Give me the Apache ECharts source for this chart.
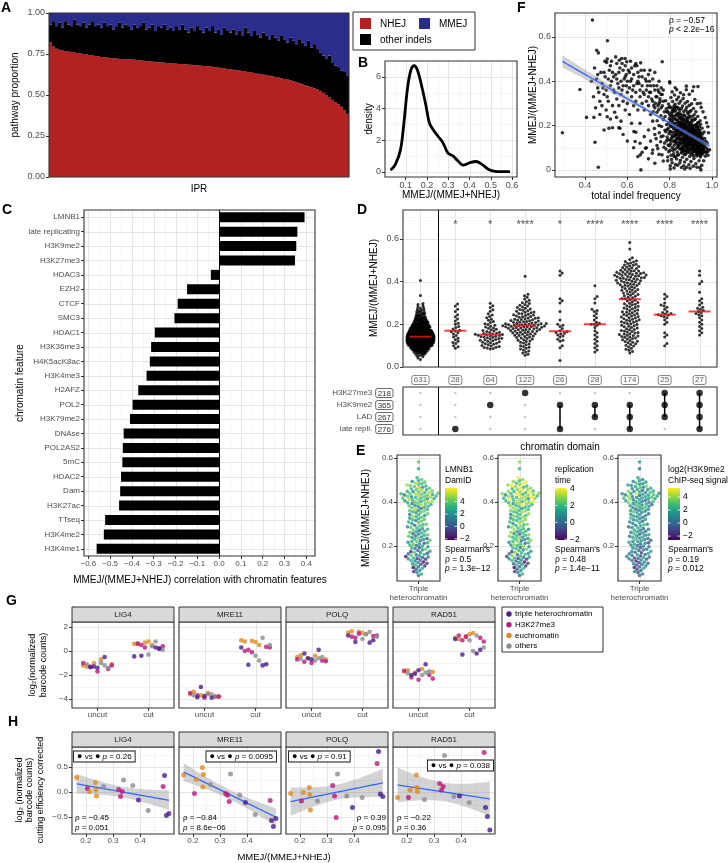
<!DOCTYPE html>
<html><head><meta charset="utf-8">
<script src="https://cdn.jsdelivr.net/npm/echarts@6/dist/echarts.min.js"></script>
<style>html,body{margin:0;padding:0;background:#fff}#c{width:728px;height:863px}</style>
</head><body><div id="c"></div>
<script>
// ================= DATA =================
// A: pathway proportions per IPR (sorted by NHEJ)
const nhejShare = [0.82,0.795,0.782,0.776,0.771,0.768,0.765,0.762,0.759,0.756,0.753,0.75,0.747,0.744,0.741,0.738,0.735,0.732,0.73,0.728,0.726,0.724,0.722,0.72,0.719,0.718,0.717,0.716,0.715,0.713,0.711,0.709,0.707,0.705,0.703,0.702,0.7,0.698,0.697,0.695,0.694,0.692,0.691,0.689,0.688,0.687,0.685,0.684,0.682,0.681,0.679,0.677,0.676,0.674,0.672,0.67,0.667,0.665,0.662,0.659,0.657,0.654,0.651,0.649,0.646,0.643,0.64,0.637,0.634,0.63,0.627,0.624,0.621,0.617,0.614,0.61,0.606,0.602,0.598,0.594,0.589,0.584,0.578,0.572,0.566,0.56,0.554,0.548,0.541,0.533,0.525,0.513,0.499,0.484,0.47,0.457,0.444,0.428,0.408,0.385];
const mmejShare = [.07,.05,.08,.06,.09,.05,.07,.08,.04,.07,.08,.06,.09,.07,.05,.08,.07,.09,.06,.08,.07,.10,.08,.06,.09,.07,.08,.10,.07,.09,.08,.06,.10,.09,.07,.11,.08,.09,.07,.10,.09,.11,.08,.10,.07,.10,.12,.09,.11,.08,.10,.12,.09,.11,.08,.12,.10,.13,.09,.11,.12,.10,.13,.11,.14,.09,.12,.14,.11,.13,.15,.12,.14,.16,.13,.15,.17,.14,.16,.18,.15,.17,.19,.16,.18,.20,.17,.21,.19,.22,.24,.26,.28,.26,.30,.32,.33,.35,.36,.38];
// B: density of MMEJ/(MMEJ+NHEJ)
const densityX = [0.029,0.052,0.076,0.092,0.108,0.124,0.14,0.156,0.179,0.195,0.211,0.227,0.251,0.275,0.298,0.322,0.346,0.37,0.40,0.43,0.46,0.49,0.52,0.55,0.59];
const densityY = [0.1,0.47,1.4,3.1,5.2,6.4,6.7,6.4,5.2,4.2,3.1,2.7,2.26,1.84,1.2,1.0,0.68,0.42,0.57,0.65,0.45,0.15,0.03,0.01,0.01];
// C: correlation with chromatin features
const chromFeatures = ['LMNB1','late replicating','H3K9me2','H3K27me3','HDAC3','EZH2','CTCF','SMC3','HDAC1','H3K36me3','H4K5acK8ac','H3K4me3','H2AFZ','POL2','H3K79me2','DNAse','POL2AS2','5mC','HDAC2','Dam','H3K27ac','TTseq','H3K4me2','H3K4me1'];
const chromCorr = [0.392,0.359,0.354,0.348,-0.038,-0.147,-0.19,-0.205,-0.295,-0.312,-0.318,-0.333,-0.371,-0.397,-0.409,-0.438,-0.442,-0.444,-0.45,-0.454,-0.459,-0.523,-0.529,-0.562];
// D: chromatin domain groups
const groupCounts = [631,28,64,122,26,28,174,25,27];
const groupStars = ['','*','*','****','*','****','****','****','****'];
const domainRows = ['H3K27me3','H3K9me2','LAD','late repli.'];
const domainRowCounts = [218,365,267,276];
const groupMembership = [[0,0,0,0],[0,0,0,1],[0,1,0,0],[1,0,0,0],[0,1,0,1],[0,1,1,0],[0,1,1,1],[1,1,1,0],[1,1,1,1]];
const g1BinStart = [.03,.04,.05,.06,.07,.08,.09,.10,.11,.12,.13,.14,.15,.16,.17,.18,.19,.20,.21,.22,.23,.24,.25,.26,.27,.28,.29,.33,.40];
const g1BinCount = [1,2,4,8,14,22,32,45,55,60,62,60,54,46,38,30,24,18,14,10,8,6,5,4,3,2,2,1,1];
const g2 = [.295,.285,.27,.26,.245,.235,.225,.215,.205,.2,.19,.185,.178,.172,.168,.165,.16,.155,.148,.14,.135,.128,.12,.115,.11,.1,.095,.088];
const g3 = [.298,.287,.279,.268,.261,.249,.244,.236,.231,.224,.219,.213,.208,.203,.199,.196,.191,.187,.183,.181,.177,.174,.171,.168,.166,.163,.161,.158,.157,.155,.153,.152,.151,.149,.147,.146,.144,.142,.141,.139,.137,.135,.133,.131,.129,.127,.125,.123,.121,.118,.116,.114,.111,.109,.106,.104,.101,.098,.096,.093,.091,.089,.087,.084];
const g4 = [.425,.34,.333,.326,.318,.312,.306,.301,.297,.293,.289,.285,.281,.278,.275,.272,.269,.266,.263,.261,.258,.256,.254,.251,.249,.247,.245,.243,.241,.239,.237,.235,.233,.231,.229,.228,.226,.224,.222,.221,.219,.218,.216,.215,.213,.212,.21,.209,.208,.206,.205,.204,.203,.202,.201,.2,.199,.198,.197,.196,.195,.194,.193,.192,.191,.19,.189,.188,.187,.186,.185,.184,.183,.181,.18,.179,.178,.176,.175,.174,.172,.171,.169,.168,.166,.165,.163,.162,.16,.158,.156,.155,.153,.151,.149,.147,.145,.143,.141,.138,.136,.133,.131,.128,.125,.122,.119,.116,.112,.108,.104,.1,.096,.092,.088,.084,.08,.075,.07,.065,.06,.055];
const g5 = [.45,.44,.43,.32,.31,.3,.26,.22,.2,.195,.19,.18,.17,.165,.162,.158,.155,.15,.145,.14,.13,.125,.12,.1,.09,.03];
const g6 = [.38,.33,.32,.3,.27,.265,.26,.25,.24,.23,.22,.21,.205,.2,.2,.195,.185,.17,.16,.15,.14,.13,.12,.11,.1,.09,.08,.07];
const g7 = [.065,.072,.079,.083,.088,.094,.098,.102,.105,.109,.113,.116,.119,.121,.124,.127,.131,.133,.136,.139,.141,.143,.145,.147,.149,.152,.154,.156,.159,.161,.164,.166,.169,.171,.174,.176,.179,.182,.185,.188,.191,.193,.196,.199,.202,.204,.207,.209,.212,.214,.217,.219,.221,.224,.226,.229,.231,.234,.236,.239,.241,.244,.246,.249,.251,.254,.256,.259,.262,.265,.267,.271,.273,.276,.279,.282,.284,.287,.291,.294,.296,.299,.302,.306,.309,.313,.316,.319,.321,.324,.327,.331,.333,.336,.339,.342,.344,.347,.351,.354,.356,.359,.361,.363,.366,.368,.371,.374,.376,.379,.381,.383,.385,.387,.389,.391,.393,.395,.397,.399,.401,.403,.404,.406,.408,.41,.411,.413,.415,.416,.418,.419,.421,.422,.424,.425,.427,.428,.43,.431,.433,.434,.436,.437,.438,.439,.441,.443,.444,.446,.448,.449,.451,.453,.456,.458,.461,.463,.466,.468,.471,.473,.476,.478,.481,.484,.487,.491,.494,.497,.503,.511,.552,.583];
const g8 = [.34,.33,.32,.3,.29,.285,.28,.27,.26,.255,.25,.248,.245,.243,.24,.235,.23,.22,.21,.2,.16,.15,.14,.11,.1];
const g9 = [.45,.43,.4,.39,.35,.32,.31,.3,.29,.28,.275,.27,.265,.26,.255,.25,.245,.24,.23,.22,.21,.2,.19,.18,.17,.16,.15];
// E: chromatin signals of triple-heterochromatin IPRs (same order as g7)
const lmnb1Signal = [1,3,2,-1,2,0,3,-2,1,-1,3,0,2,-1,2,-2,1,3,0,-1,2,-1,3,0,1,-2,2,4,1,3,1,0,2,4,-1,2,1,2,4,1,3,0,2,3,1,3,4,2,0,3,2,4,3,1,4,2,3,0,4,2,2,4,1,3,4,2,0,3,4,2,3,1,4,3,2,3,4,2,4,1,3,4,2,4,3,4,1,3,4,3,2,4,3,5,2,3,1,4,2,4,3,4,4,2,3,5,1,4,3,2,3,4,2,5,3,4,1,4,3,5,4,3,5,2,4,3,4,5,2,3,4,3,3,5,4,2,4,3,5,4,1,3,4,5,3,4,4,3,5,4,2,3,4,5,3,4,3,4,5,2,4,3,4,5,4,3,5,4,2,3,4,3,3,4];
const replicationTime = [0,2,1,-1,1,0,2,-2,0,-1,2,1,0,-1,1,-2,0,2,1,-1,1,-1,2,0,1,-1,2,3,0,2,0,1,2,3,-1,1,2,1,3,2,2,0,1,3,2,1,3,2,0,2,1,3,2,0,3,1,2,1,3,2,1,3,2,2,3,0,1,2,3,1,2,2,3,1,2,2,3,1,3,2,2,3,1,3,2,3,2,2,3,2,1,3,2,3,2,2,1,3,2,3,2,3,3,2,2,3,1,3,2,2,2,3,2,4,2,3,1,3,2,3,3,2,4,2,3,2,3,4,1,3,2,3,2,4,3,2,3,2,4,3,1,3,2,4,3,2,3,2,4,3,2,3,2,4,3,3,2,3,4,2,3,2,4,3,3,4,2,4,3,2,3,4,2,3];
const h3k9me2Signal = [0,1,-1,1,0,-1,2,-2,0,1,-1,0,1,0,-1,1,-2,0,1,0,1,0,-1,2,0,1,-1,0,2,0,1,2,-1,0,1,2,0,1,0,2,1,-1,0,1,0,1,2,0,1,-1,2,1,1,2,0,1,3,0,1,2,2,0,1,1,2,0,3,1,1,2,0,1,2,1,0,2,1,0,2,1,3,1,1,2,1,0,2,1,2,1,3,0,1,2,1,1,2,0,2,1,3,1,2,1,1,0,2,1,3,2,1,2,3,1,0,2,1,2,4,1,2,1,3,2,0,1,2,4,1,2,3,1,1,3,2,1,4,2,0,2,1,3,2,5,1,2,2,1,3,2,1,4,2,0,1,2,1,2,3,1,2,4,1,2,2,1,3,2,1,2,1,2,0,2];
// F: total indel frequency vs MMEJ ratio
const indelVsRatio = [
[.293,.168],[.435,.676],[.506,.583],[.376,.363],[.407,.237],[.442,.237],[.447,.125],[.463,.012],[.455,.540],[.463,.528],[.494,.490],[.502,.485],[.562,.495],[.573,.503],[.589,.503],[.597,.488],[.663,.483],[.765,.488],[.707,.450],[.800,.398],[.914,.375],[.879,.378],[.513,.188],[.565,.188],[.549,.237],[.505,.240],[.631,.173],[.662,.068],[.686,.098],[.664,.000],[.637,.128],[.981,.195],[.981,.083],[.948,.000],[.718,.075],
[.43,.40],[.44,.33],[.45,.28],[.46,.37],[.46,.43],[.47,.31],[.47,.25],[.48,.39],[.48,.29],[.49,.34],[.49,.44],[.50,.27],[.50,.36],[.51,.41],[.51,.31],[.52,.47],[.52,.23],[.52,.38],[.53,.29],[.53,.44],[.54,.35],[.54,.26],[.55,.41],[.55,.32],[.55,.48],[.56,.37],[.56,.29],[.56,.44],[.57,.40],[.57,.34],[.57,.22],[.58,.45],[.58,.31],[.58,.38],[.59,.42],[.59,.27],[.59,.47],[.60,.35],[.60,.40],[.60,.30],[.61,.44],[.61,.37],[.61,.25],[.62,.41],[.62,.33],[.62,.46],[.63,.38],[.63,.29],[.63,.43],[.64,.35],[.64,.48],[.64,.31],[.65,.40],[.65,.27],[.65,.44],[.66,.36],[.66,.33],[.66,.21],[.67,.42],[.67,.30],[.67,.38],[.68,.34],[.68,.45],[.68,.27],[.69,.40],[.69,.31],[.69,.36],[.70,.43],[.70,.29],[.70,.33],[.71,.38],[.71,.25],[.71,.35],[.72,.41],[.72,.31],[.72,.22],[.73,.36],[.73,.28],[.73,.44],[.74,.33],[.74,.38],[.74,.26],[.75,.30],[.75,.35],[.75,.40],[.76,.34],[.76,.28],[.76,.37],[.77,.31],[.77,.36],
[.445,.46],[.455,.41],[.465,.35],[.475,.44],[.485,.37],[.495,.42],[.505,.33],[.515,.45],[.525,.40],[.535,.36],[.545,.43],[.555,.39],[.565,.46],[.575,.36],[.585,.41],[.595,.38],[.605,.45],[.615,.40],[.625,.36],[.635,.47],[.645,.39],[.655,.42],[.665,.45],[.675,.35],[.685,.41],[.695,.38],[.705,.35],[.715,.32],[.725,.38],[.735,.33],[.745,.36],[.755,.31],[.765,.34],[.505,.50],[.525,.49],[.545,.51],[.575,.48],[.615,.49],[.645,.47],[.535,.42],[.595,.43],[.655,.39],[.705,.40],[.725,.29],[.745,.29],
[.49,.18],[.53,.19],[.56,.19],[.58,.16],[.60,.13],[.62,.21],[.63,.10],[.64,.17],[.65,.06],[.66,.12],[.67,.08],[.68,.15],[.69,.10],[.70,.18],[.70,.05],[.71,.13],[.72,.09],[.73,.16],[.73,.03],[.74,.11],[.75,.20],[.75,.07],[.76,.15],[.77,.23],[.77,.04],
[.781,.312],[.784,.276],[.779,.241],[.786,.205],[.782,.172],[.788,.148],[.776,.121],[.783,.094],[.791,.058],[.795,.297],[.792,.262],[.798,.231],[.794,.188],[.797,.163],[.793,.137],[.799,.109],[.796,.082],[.791,.041],[.803,.018],[.806,.327],[.802,.285],[.809,.254],[.804,.226],[.807,.197],[.801,.173],[.808,.142],[.805,.118],[.802,.089],[.809,.047],[.814,.309],[.817,.271],[.812,.238],[.815,.214],[.818,.186],[.811,.157],[.816,.129],[.813,.101],[.819,.073],[.812,.032],[.823,.338],[.826,.296],[.821,.263],[.828,.244],[.824,.209],[.827,.178],[.822,.151],[.829,.126],[.825,.093],[.821,.061],[.828,.024],[.834,.317],[.831,.283],[.837,.255],[.833,.226],[.838,.194],[.835,.166],[.832,.139],[.839,.112],[.836,.081],[.833,.049],[.842,.329],[.845,.301],[.848,.268],[.843,.241],[.846,.213],[.841,.182],[.849,.158],[.844,.127],[.847,.096],[.842,.068],[.848,.031],[.853,.311],[.856,.277],[.851,.252],[.858,.222],[.854,.191],[.857,.169],[.852,.137],[.859,.109],[.855,.077],[.851,.043],[.864,.322],[.861,.288],[.867,.263],[.863,.232],[.868,.203],[.862,.176],[.866,.147],[.869,.119],[.864,.088],[.861,.057],[.867,.019],[.873,.301],[.876,.271],[.871,.244],[.878,.214],[.874,.186],[.877,.158],[.872,.128],[.879,.101],[.875,.069],[.871,.036],[.884,.309],[.881,.283],[.887,.253],[.883,.227],[.888,.196],[.882,.167],[.886,.139],[.889,.112],[.884,.079],[.881,.048],[.893,.291],[.896,.262],[.891,.236],[.898,.205],[.894,.177],[.897,.152],[.892,.121],[.899,.093],[.895,.061],[.891,.023],[.904,.298],[.901,.268],[.907,.241],[.903,.214],[.908,.186],[.902,.158],[.906,.131],[.909,.104],[.904,.071],[.901,.038],[.913,.277],[.916,.249],[.911,.223],[.918,.193],[.914,.166],[.917,.138],[.912,.111],[.919,.083],[.915,.052],[.924,.262],[.921,.231],[.927,.204],[.923,.177],[.928,.148],[.922,.122],[.926,.094],[.929,.063],[.924,.028],[.933,.241],[.936,.213],[.931,.186],[.938,.157],[.934,.131],[.937,.103],[.932,.076],[.939,.041],[.944,.222],[.941,.196],[.947,.168],[.943,.142],[.948,.114],[.942,.087],[.946,.058],[.953,.188],[.956,.162],[.951,.134],[.958,.106],[.954,.078],[.963,.171],[.966,.142],[.961,.112],[.968,.081],[.972,.128],[.977,.094],
[.787,.262],[.803,.244],[.811,.196],[.818,.227],[.826,.187],[.829,.158],[.834,.212],[.836,.101],[.841,.148],[.843,.276],[.849,.201],[.851,.119],[.854,.236],[.857,.092],[.859,.182],[.862,.214],[.865,.131],[.868,.247],[.869,.071],[.872,.198],[.874,.109],[.876,.229],[.879,.151],[.881,.186],[.883,.094],[.885,.261],[.887,.121],[.889,.213],[.891,.172],[.893,.078],[.895,.243],[.897,.136],[.899,.188],[.901,.112],[.903,.226],[.905,.163],[.907,.087],[.909,.201],[.911,.142],[.913,.064],[.915,.183],[.917,.117],[.919,.228],[.921,.156],[.923,.091],[.925,.197],[.927,.133],[.929,.172],[.931,.108],[.933,.213],[.935,.147],[.937,.068],[.939,.181],[.941,.126],[.943,.163],[.945,.097],[.947,.139],[.949,.071],[.952,.148],[.955,.121],[.957,.093],[.812,.264],[.816,.088],[.822,.112],[.824,.278],[.827,.059],[.831,.169],[.838,.067],[.846,.169],[.847,.234],[.852,.157],[.856,.203],[.861,.101],[.863,.164],[.866,.187],[.871,.143],[.873,.088],[.877,.121],[.882,.139],[.884,.236],[.888,.158],[.892,.101],[.894,.211],[.898,.171],[.902,.128],[.906,.196],[.908,.149],[.912,.172],[.914,.093],[.918,.153],[.922,.204],[.926,.119],[.928,.082],[.932,.193],[.936,.127],[.938,.097],[.942,.176],[.944,.118],[.946,.206],[.803,.132],[.807,.066],[.797,.212],[.793,.112],[.789,.182],[.785,.131],
[.722,.262],[.728,.187],[.733,.301],[.736,.141],[.741,.222],[.744,.096],[.748,.271],[.751,.168],[.754,.321],[.757,.127],[.759,.244],[.762,.196],[.764,.068],[.766,.289],[.769,.153],[.771,.226],[.773,.102],[.775,.262],[.778,.179],[.989,.091],[.984,.168],[.975,.213],[.968,.236],[.958,.262],[.949,.282],[.961,.041],[.952,.021],[.943,.011],[.929,.012],[.912,.017],[.897,.007],[.881,.012],[.871,.004],[.856,.011],[.838,.021],[.821,.009],[.803,.004],
[.812,.352],[.826,.371],[.834,.362],[.851,.348],[.866,.339],[.879,.362],[.893,.341],[.908,.356],[.919,.318],[.931,.299],[.945,.301],[.934,.376],[.801,.392],
[.796,.281],[.799,.252],[.802,.203],[.806,.172],[.808,.221],[.811,.279],[.813,.148],[.815,.244],[.817,.169],[.819,.203],[.821,.288],[.823,.131],[.825,.232],[.826,.158],[.828,.268],[.829,.197],[.831,.121],[.832,.249],[.834,.177],[.835,.139],[.837,.223],[.838,.283],[.839,.158],[.841,.203],[.842,.108],[.843,.187],[.844,.254],[.846,.141],[.847,.216],[.848,.118],[.849,.176],[.851,.232],[.852,.096],[.853,.162],[.854,.208],[.855,.129],[.856,.247],[.857,.183],[.858,.143],[.859,.081],[.861,.193],[.862,.124],[.863,.226],[.864,.157],[.865,.098],[.866,.171],[.867,.207],[.868,.137],[.869,.186],[.871,.112],[.872,.161],[.873,.221],[.874,.132],[.875,.196],[.876,.083],[.877,.174],[.878,.141],[.879,.206],[.881,.117],[.882,.153],[.883,.188],[.884,.104],[.885,.167],[.886,.218],[.887,.131],[.888,.086],[.889,.177],[.891,.142],[.892,.198],[.893,.113],[.894,.158],[.895,.127],[.896,.184],[.897,.091],[.898,.148],[.899,.203],[.901,.121],[.902,.172],[.903,.098],[.904,.146],[.905,.186],[.906,.112],[.907,.163],[.908,.076],[.909,.132],[.911,.181],[.912,.101],[.913,.148],[.914,.121],[.915,.166],[.916,.083],[.917,.139],[.918,.109],[.919,.171],[.921,.128],[.922,.092],[.923,.151],[.924,.112],[.925,.178],[.926,.071],[.927,.141],[.928,.101],[.929,.158],[.931,.126],[.932,.088],[.933,.164],[.934,.107],[.935,.132],[.936,.078],[.937,.153],[.938,.118],[.939,.093],[.941,.141],[.942,.106],[.943,.079],[.944,.133],[.945,.154],[.946,.092],[.947,.118],[.948,.068],[.949,.128],[.951,.101],[.952,.082],[.953,.113],[.955,.139],[.956,.072],[.958,.121],[.959,.094],[.962,.127],[.964,.086],[.966,.109],[.969,.062],[.971,.101],[.974,.077],[.978,.121],[.982,.066]
];
// G/H: DSB repair protein screen
const screenProteins = ['LIG4','MRE11','POLQ','RAD51'];
const gConditions = ['uncut','cut'];
const iprClass = ['eu','k27','eu','eu','eu','eu','oth','k27','k27','k27','oth','oth','tri','oth','k27','tri','tri','tri'];
const iprMmejRatio = [0.166,0.206,0.213,0.235,0.237,0.239,0.265,0.321,0.328,0.334,0.339,0.373,0.394,0.43,0.485,0.49,0.497,0.506];
const lig4Uncut = [-1.2,-1.5,-0.7,-1.0,-1.3,-1.1,-1.2,-1.7,-1.3,-1.0,-1.4,-1.0,-1.3,-1.1,-1.2,-0.5,-1.4,-1.35];
const lig4Cut = [0.7,0.4,0.8,0.6,0.5,0.65,0.8,0.5,0.2,0.3,0.1,-0.3,-0.45,0.4,0.6,0.3,-0.4,0.2];
const mre11Uncut = [-3.6,-3.8,-3.5,-3.7,-3.4,-3.8,-3.6,-3.9,-3.7,-3.5,-3.8,-3.6,-3.0,-3.7,-3.8,-3.9,-3.75,-3.85];
const mre11Cut = [0.85,0.3,0.75,0.9,0.5,0.8,1.1,0.1,0.35,-0.1,0.5,-0.4,0.3,-0.8,0.0,-1.2,-1.15,-1.1];
const polqUncut = [-0.5,-0.8,-0.4,-0.6,-0.35,-0.7,-0.6,-1.0,-0.9,-0.7,-0.5,-0.8,-0.6,-0.65,-0.85,0.1,-0.7,-0.2];
const polqCut = [1.6,1.3,1.5,1.55,1.4,1.65,1.6,1.1,1.25,1.45,1.2,1.0,1.3,1.4,1.2,0.7,0.75,0.9];
const rad51Uncut = [-1.7,-2.0,-1.5,-1.8,-1.6,-1.75,-1.8,-2.4,-2.2,-1.65,-1.7,-2.0,-1.9,-1.85,-2.3,-1.1,-1.6,-2.0];
const rad51Cut = [1.2,0.8,1.4,1.1,1.5,1.0,1.3,0.9,1.1,1.2,0.3,0.9,1.0,0.0,1.3,-0.2,-0.3,0.1];
const lig4Corrected = [0.29,0.07,0.01,0.19,0.04,-0.08,0.11,0.05,-0.09,0.01,0.24,0.13,-0.16,-0.37,0.11,0.33,-0.47,-0.43];
const mre11Corrected = [0.34,-0.03,0.25,0.49,0.10,0.35,0.15,-0.03,-0.06,-0.19,0.36,-0.06,-0.21,-0.45,-0.17,-0.57,-0.69,-0.53];
const polqCorrected = [-0.03,-0.18,-0.01,0.09,-0.05,-0.36,-0.18,0.13,-0.08,-0.51,0.36,-0.08,-0.31,-0.11,0.57,0.81,-0.04,-0.09];
const rad51Corrected = [-0.11,-0.11,0.04,0.34,0.09,0.01,-0.15,0.17,0.04,0.11,0.73,-0.09,-0.08,-0.21,0.79,-0.31,-0.49,-0.76];
const hTestP = ['0.26','0.0095','0.91','0.038'];
const hRho = ['\u22120.45','\u22120.84','0.39','\u22120.22'];
const hRhoP = ['0.051','8.6e\u221206','0.095','0.36'];

// ================= HELPERS =================
const FONT = '"Liberation Sans", Arial, sans-serif';
const NARROW = '"Liberation Sans Narrow", "Liberation Sans", sans-serif';
const MINUS = '\u2212';
const fmt1 = v => (v < -1e-9 ? MINUS : '') + Math.abs(v).toFixed(1);
const fmtInt = v => (v < -1e-9 ? MINUS : '') + Math.abs(v);
const C_NHEJ = '#B22222', C_MMEJ = '#2B2D8C';
const CLASS_COL = { tri: '#4B1D8A', k27: '#B8197E', eu: '#E08A1F', oth: '#8C8C8C' };
const VIRIDIS = ['#440154','#482878','#3E4A89','#31688E','#26828E','#1F9E89','#35B779','#6DCD59','#B4DE2C','#FDE725'];
function viridis(t) {
  t = Math.max(0, Math.min(1, t)); const p = t * (VIRIDIS.length - 1); const i = Math.min(VIRIDIS.length - 2, Math.floor(p)); const f = p - i;
  const a = VIRIDIS[i], b = VIRIDIS[i + 1];
  const ch = (s, k) => parseInt(s.substr(1 + 2 * k, 2), 16);
  const c = [0,1,2].map(k => Math.round(ch(a,k) + (ch(b,k) - ch(a,k)) * f));
  return 'rgb(' + c.join(',') + ')';
}
const grids = [], xAxes = [], yAxes = [], series = [], gfx = [];
function plainGrid(b) { grids.push({ left: b[0], top: b[1], width: b[2], height: b[3] }); return grids.length - 1; }
function panel(b) {
  const gi = plainGrid(b);
  gfx.push({ type: 'rect', z: 100, silent: true, shape: { x: b[0], y: b[1], width: b[2], height: b[3] }, style: { fill: null, stroke: '#333', lineWidth: 1.1 } });
  return gi;
}
function vAxis(dim, gi, o) {
  const list = dim === 'x' ? xAxes : yAxes;
  list.push({
    type: 'value', gridIndex: gi, min: o.min, max: o.max, inverse: !!o.inverse,
    position: dim === 'x' ? 'bottom' : 'left',
    axisLine: { show: false, onZero: false },
    axisTick: { show: o.ticks !== false && !!(o.major && o.major.length), length: 3, lineStyle: { color: '#333', width: 1 }, customValues: o.major || [] },
    axisLabel: { show: !!o.fmt, customValues: o.major || [], formatter: o.fmt, fontSize: o.fs || 9, color: '#4D4D4D', margin: o.margin == null ? 4 : o.margin, fontFamily: o.ff || FONT, lineHeight: o.lh },
    splitLine: { show: false }
  });
  return list.length - 1;
}
function gridLines(xi, yi, s) {
  series.push({ type: 'custom', xAxisIndex: xi, yAxisIndex: yi, data: [[s.xr, s.yr]], silent: true, z: 0, clip: false,
    renderItem: (params, api) => {
      const cs = params.coordSys, ch = [];
      const v = (val, w, c) => { const x = Math.round(api.coord([val, s.yr])[0]) + 0.5; ch.push({ type: 'line', shape: { x1: x, y1: cs.y, x2: x, y2: cs.y + cs.height }, style: { stroke: c, lineWidth: w } }); };
      const h = (val, w, c) => { const y = Math.round(api.coord([s.xr, val])[1]) + 0.5; ch.push({ type: 'line', shape: { x1: cs.x, y1: y, x2: cs.x + cs.width, y2: y }, style: { stroke: c, lineWidth: w } }); };
      (s.xm || []).forEach(a => v(a, 0.6, '#EFEFEF')); (s.ym || []).forEach(a => h(a, 0.6, '#EFEFEF'));
      (s.x || []).forEach(a => v(a, 1, '#E5E5E5')); (s.y || []).forEach(a => h(a, 1, '#E5E5E5'));
      return { type: 'group', children: ch };
    } });
}
function txt(x, y, text, o = {}) {
  gfx.push({ type: 'text', x, y, rotation: o.rot || 0, z: 110, silent: true,
    style: { text, fill: o.color || '#000', fontSize: o.fs || 10, fontFamily: o.ff || FONT,
      fontWeight: o.bold ? 'bold' : 'normal', fontStyle: o.italic ? 'italic' : 'normal',
      align: o.align || 'left', textAlign: o.align || 'left', verticalAlign: o.va || 'middle', textVerticalAlign: o.va || 'middle',
      lineHeight: o.lh, rich: o.rich, backgroundColor: o.bg, borderColor: o.border, borderWidth: o.border ? 0.9 : 0, padding: o.pad } });
}
function rect(x, y, w, h, fill, stroke, z) {
  gfx.push({ type: 'rect', z: z || 105, silent: true, shape: { x, y, width: w, height: h }, style: { fill: fill, stroke: stroke || null, lineWidth: stroke ? 1 : 0 } });
}
function median(a) { const s = a.slice().sort((p, q) => p - q); const n = s.length; return n % 2 ? s[(n - 1) / 2] : (s[n / 2 - 1] + s[n / 2]) / 2; }
function swarm(vals, ppu, diam) {
  const order = vals.map((v, i) => i).sort((a, b) => vals[a] - vals[b]);
  const placed = [], out = new Array(vals.length);
  for (const i of order) {
    const y = vals[i] * ppu;
    const near = placed.filter(p => Math.abs(p.y - y) < diam);
    const cands = [0];
    near.forEach(p => { const dx = Math.sqrt(diam * diam - (p.y - y) * (p.y - y)); cands.push(p.x + dx, p.x - dx); });
    cands.sort((a, b) => Math.abs(a) - Math.abs(b));
    let best = 0;
    for (const c of cands) { if (near.every(p => (p.x - c) * (p.x - c) + (p.y - y) * (p.y - y) >= diam * diam - 1e-6)) { best = c; break; } }
    placed.push({ x: best, y }); out[i] = best;
  }
  return out;
}
function lmFit(xs, ys, t) {
  const n = xs.length, mx = xs.reduce((a, b) => a + b) / n, my = ys.reduce((a, b) => a + b) / n;
  let sxx = 0, sxy = 0; xs.forEach((x, i) => { sxx += (x - mx) ** 2; sxy += (x - mx) * (ys[i] - my); });
  const b = sxy / sxx, a = my - b * mx; let sse = 0; xs.forEach((x, i) => { sse += (ys[i] - a - b * x) ** 2; });
  const s = Math.sqrt(sse / (n - 2)); const x0 = Math.min(...xs), x1 = Math.max(...xs); const pts = [];
  for (let k = 0; k <= 40; k++) { const x = x0 + (x1 - x0) * k / 40, yh = a + b * x, se = s * Math.sqrt(1 / n + (x - mx) ** 2 / sxx); pts.push([x, yh, yh - t * se, yh + t * se]); }
  return pts;
}
function fitSeries(xi, yi, pts) {
  series.push({ type: 'custom', xAxisIndex: xi, yAxisIndex: yi, data: [[pts[0][0], pts[0][1]]], silent: true, z: 3, clip: false,
    renderItem: (params, api) => {
      const up = pts.map(p => api.coord([p[0], p[3]])), lo = pts.map(p => api.coord([p[0], p[2]])).reverse();
      return { type: 'polygon', shape: { points: up.concat(lo) }, style: { fill: 'rgba(150,150,150,0.42)' } };
    } });
  series.push({ type: 'line', xAxisIndex: xi, yAxisIndex: yi, data: pts.map(p => [p[0], p[1]]), showSymbol: false, silent: true, z: 4, lineStyle: { color: '#3366FF', width: 1.3 } });
}

// ================= PANEL A =================
const gA = panel([49, 13, 300, 164]);
const iprIndex = nhejShare.map((_, i) => String(i + 1));
const otherShare = nhejShare.map((v, i) => 1 - v - mmejShare[i]);
xAxes.push({ type: 'category', gridIndex: gA, data: iprIndex, boundaryGap: true, axisLine: { show: false, onZero: false }, axisTick: { show: false }, axisLabel: { show: false }, splitLine: { show: false } });
const xA = xAxes.length - 1;
const yA = vAxis('y', gA, { min: 0, max: 1, major: [0, 0.25, 0.5, 0.75, 1], fmt: v => v.toFixed(2) });
[[nhejShare, C_NHEJ], [otherShare, '#000'], [mmejShare, C_MMEJ]].forEach(([d, c]) =>
  series.push({ type: 'bar', xAxisIndex: xA, yAxisIndex: yA, stack: 'ipr', data: d, barCategoryGap: '0%', barGap: '0%', silent: true, itemStyle: { color: c } }));
txt(15, 95, 'pathway proportion', { rot: Math.PI / 2, align: 'center' });
txt(199, 189, 'IPR', { align: 'center' });
rect(353, 12, 122, 38, '#fff', '#333');
rect(360, 18, 11, 11, C_NHEJ); txt(380, 24, 'NHEJ');
rect(419, 18, 11, 11, C_MMEJ); txt(439, 24, 'MMEJ');
rect(360, 34, 11, 11, '#000'); txt(380, 40, 'other indels');

// ================= PANEL B =================
const gB = panel([385, 61, 132, 116]);
const xB = vAxis('x', gB, { min: 0.003, max: 0.623, major: [0.1, 0.2, 0.3, 0.4, 0.5, 0.6], fmt: fmt1 });
const yB = vAxis('y', gB, { min: -0.33, max: 7.0, major: [0, 2, 4, 6], fmt: fmtInt });
gridLines(xB, yB, { xr: 0.3, yr: 3, x: [0.1, 0.2, 0.3, 0.4, 0.5, 0.6], xm: [0.05, 0.15, 0.25, 0.35, 0.45, 0.55], y: [0, 2, 4, 6], ym: [1, 3, 5] });
series.push({ type: 'line', xAxisIndex: xB, yAxisIndex: yB, data: densityX.map((x, i) => [x, densityY[i]]), smooth: 0.35, showSymbol: false, silent: true, lineStyle: { color: '#000', width: 2.8 } });
txt(369, 119, 'density', { rot: Math.PI / 2, align: 'center' });
txt(451, 195, 'MMEJ/(MMEJ+NHEJ)', { align: 'center' });

// ================= PANEL F =================
const gF = panel([555, 13, 162, 164]);
const xF = vAxis('x', gF, { min: 0.258, max: 1.024, major: [0.4, 0.6, 0.8, 1.0], fmt: fmt1 });
const yF = vAxis('y', gF, { min: -0.032, max: 0.708, major: [0, 0.2, 0.4, 0.6], fmt: v => v === 0 ? '0' : v.toFixed(1) });
gridLines(xF, yF, { xr: 0.6, yr: 0.3, x: [0.4, 0.6, 0.8, 1.0], xm: [0.3, 0.5, 0.7, 0.9], y: [0, 0.2, 0.4, 0.6], ym: [0.1, 0.3, 0.5, 0.7] });
series.push({ type: 'scatter', xAxisIndex: xF, yAxisIndex: yF, data: indelVsRatio, symbolSize: 3.6, silent: true, itemStyle: { color: '#000' } });
fitSeries(xF, yF, lmFit(indelVsRatio.map(p => p[0]), indelVsRatio.map(p => p[1]), 1.96));
txt(669, 21, '\u03c1 = \u22120.57', { fs: 8.5 });
txt(669, 30, '{i|p} < 2.2e\u221216', { fs: 8.5, rich: { i: { fontStyle: 'italic', fontSize: 8.5, fontFamily: FONT } } });
txt(533, 95, 'MMEJ/(MMEJ+NHEJ)', { rot: Math.PI / 2, align: 'center' });
txt(636, 196, 'total indel frequency', { align: 'center' });

// ================= PANEL C =================
const gC = panel([84, 210, 231, 346]);
const cMajor = [-0.6, -0.5, -0.4, -0.3, -0.2, -0.1, 0, 0.1, 0.2, 0.3, 0.4];
const xC = vAxis('x', gC, { min: -0.62, max: 0.44, major: cMajor, fmt: fmt1, fs: 8 });
yAxes.push({ type: 'category', gridIndex: gC, data: chromFeatures, inverse: true, position: 'left', axisLine: { show: false, onZero: false },
  axisTick: { show: true, alignWithLabel: true, length: 3, lineStyle: { color: '#333' } },
  axisLabel: { interval: 0, fontSize: 8, color: '#4D4D4D', margin: 4, fontFamily: FONT }, splitLine: { show: false } });
const yC = yAxes.length - 1;
gridLines(xC, yC, { xr: 0, yr: 0, x: cMajor, xm: [-0.55, -0.45, -0.35, -0.25, -0.15, -0.05, 0.05, 0.15, 0.25, 0.35], y: chromFeatures.map((_, i) => i) });
series.push({ type: 'bar', xAxisIndex: xC, yAxisIndex: yC, data: chromCorr, barWidth: 10, silent: true, itemStyle: { color: '#000' },
  markLine: { silent: true, symbol: ['none', 'none'], label: { show: false }, lineStyle: { color: '#000', width: 1, type: 'solid' }, data: [{ xAxis: 0 }] } });
txt(20, 383, 'chromatin feature', { rot: Math.PI / 2, align: 'center' });
txt(200, 580, 'MMEJ/(MMEJ+NHEJ) correlation with chromatin features', { align: 'center' });

// ================= PANEL D =================
const gD = panel([403, 210, 314, 157]);
const xD = vAxis('x', gD, { min: 0.5, max: 9.5, major: [] });
const yD = vAxis('y', gD, { min: 0, max: 0.735, major: [0, 0.2, 0.4, 0.6], fmt: fmt1 });
gridLines(xD, yD, { xr: 5, yr: 0.3, x: [1, 2, 3, 4, 5, 6, 7, 8, 9], y: [0, 0.2, 0.4, 0.6], ym: [0.1, 0.3, 0.5, 0.7] });
const D_PPU = 157 / 0.735, D_XPU = 314 / 9;
const g1Vals = [], dPts = [];
g1BinStart.forEach((b, k) => {
  const n = g1BinCount[k], w = Math.min(27, 3.5 * Math.sqrt(n));
  for (let j = 0; j < n; j++) {
    const v = b + 0.01 * (((j * 37) % n) + 0.5) / n; g1Vals.push(v);
    dPts.push([1 + (n > 1 ? (j / (n - 1) - 0.5) * w : 0) / D_XPU, v]);
  }
});
const dGroups = [g1Vals, g2, g3, g4, g5, g6, g7, g8, g9];
for (let g = 1; g < 9; g++) { const offs = swarm(dGroups[g], D_PPU, 3.1); dGroups[g].forEach((v, i) => dPts.push([g + 1 + offs[i] / D_XPU, v])); }
series.push({ type: 'scatter', xAxisIndex: xD, yAxisIndex: yD, data: dPts, symbolSize: 3, silent: true, itemStyle: { color: '#000' },
  markLine: { silent: true, symbol: ['none', 'none'], label: { show: false }, lineStyle: { color: '#000', width: 1, type: 'solid' }, data: [{ xAxis: 1.5 }] } });
series.push({ type: 'scatter', xAxisIndex: xD, yAxisIndex: yD, data: dGroups.map((a, g) => [g + 1, median(a)]), symbol: 'rect', symbolSize: [22, 2], silent: true, z: 5, itemStyle: { color: '#E8141C' } });
series.push({ type: 'scatter', xAxisIndex: xD, yAxisIndex: yD, data: groupStars.map((s, g) => [g + 1, 0.663, s]), symbolSize: 0.01, silent: true, itemStyle: { color: 'transparent' },
  label: { show: true, position: 'inside', formatter: p => p.data[2], fontSize: 11, color: '#222', fontFamily: FONT } });
txt(374, 288, 'MMEJ/(MMEJ+NHEJ)', { rot: Math.PI / 2, align: 'center' });
const gN = plainGrid([403, 372, 314, 16]);
const xN = vAxis('x', gN, { min: 0.5, max: 9.5, major: [] });
const yN = vAxis('y', gN, { min: 0, max: 1, major: [] });
series.push({ type: 'scatter', xAxisIndex: xN, yAxisIndex: yN, data: groupCounts.map((c, g) => [g + 1, 0.5, c]), symbolSize: 0.01, silent: true, itemStyle: { color: 'transparent' },
  label: { show: true, position: 'inside', formatter: p => String(p.data[2]), fontSize: 8, color: '#333', fontFamily: FONT, borderColor: '#444', borderWidth: 0.8, borderRadius: 2, padding: [1, 2, 0, 2] } });
const gM = panel([403, 387, 314, 48]);
const xM = vAxis('x', gM, { min: 0.5, max: 9.5, major: [] });
yAxes.push({ type: 'category', gridIndex: gM, data: domainRows, inverse: true, position: 'left', axisLine: { show: false, onZero: false }, axisTick: { show: false }, splitLine: { show: false },
  axisLabel: { interval: 0, margin: 10, formatter: (v, i) => '{n|' + v + '} {b|' + domainRowCounts[i] + '}',
    rich: { n: { fontSize: 8, color: '#4D4D4D', fontFamily: FONT }, b: { fontSize: 8, color: '#333', fontFamily: FONT, borderColor: '#444', borderWidth: 0.8, borderRadius: 2, padding: [1, 2, 0, 2] } } } });
const yM = yAxes.length - 1;
const memberPts = [], otherPts = [];
groupMembership.forEach((m, g) => m.forEach((f, r) => (f ? memberPts : otherPts).push([g + 1, domainRows[r]])));
series.push({ type: 'scatter', xAxisIndex: xM, yAxisIndex: yM, data: otherPts, symbolSize: 2.5, silent: true, itemStyle: { color: '#BDBDBD' },
  markLine: { silent: true, symbol: ['none', 'none'], label: { show: false }, lineStyle: { color: '#000', width: 1, type: 'solid' }, data: [{ xAxis: 1.5 }] } });
groupMembership.forEach((m, g) => {
  const rows = m.map((f, r) => f ? r : -1).filter(r => r >= 0);
  if (rows.length > 1) series.push({ type: 'line', xAxisIndex: xM, yAxisIndex: yM, data: [[g + 1, domainRows[rows[0]]], [g + 1, domainRows[rows[rows.length - 1]]]], showSymbol: false, silent: true, lineStyle: { color: '#000', width: 1.5 } });
});
series.push({ type: 'scatter', xAxisIndex: xM, yAxisIndex: yM, data: memberPts, symbolSize: 6.5, silent: true, z: 5, itemStyle: { color: '#000' } });
txt(560, 447, 'chromatin domain', { align: 'center' });

// ================= PANEL E =================
const eSpecs = [
  { left: 397, title: 'LMNB1\nDamID', vals: lmnb1Signal, min: -2.2, max: 6.2, leg: 445, rho: '0.5', p: '1.3e\u221212' },
  { left: 498, title: 'replication\ntime', vals: replicationTime, min: -2.1, max: 4.1, leg: 555, rho: '0.48', p: '1.4e\u221211' },
  { left: 618, title: 'log2(H3K9me2\nChIP-seq signal)', vals: h3k9me2Signal, min: -2.6, max: 5.4, leg: 668, rho: '0.19', p: '0.012' }
];
const E_PPU = 126 / 0.575, E_XPU = 43 / 2;
const eOffs = swarm(g7, E_PPU, 3.4);
eSpecs.forEach(s => {
  const gi = panel([s.left, 455, 43, 126]);
  const xi = vAxis('x', gi, { min: -1, max: 1, major: [0], fmt: () => 'Triple\nheterochromatin', fs: 8, lh: 9, margin: 3 });
  const yi = vAxis('y', gi, { min: 0.04, max: 0.615, major: [0.2, 0.4, 0.6], fmt: fmt1, fs: 8 });
  gridLines(xi, yi, { xr: 0, yr: 0.3, x: [0], y: [0.2, 0.4, 0.6], ym: [0.1, 0.3, 0.5] });
  series.push({ type: 'scatter', xAxisIndex: xi, yAxisIndex: yi, symbolSize: 3.6, silent: true,
    data: g7.map((v, i) => ({ value: [eOffs[i] / E_XPU, v], itemStyle: { color: viridis((s.vals[i] - s.min) / (s.max - s.min)) } })) });
  txt(s.leg, 475, s.title, { fs: 8.5, lh: 10.5 });
  const top = 488, h = 52;
  gfx.push({ type: 'rect', z: 105, silent: true, shape: { x: s.leg, y: top, width: 12, height: h },
    style: { fill: { type: 'linear', x: 0, y: 0, x2: 0, y2: 1, colorStops: VIRIDIS.slice().reverse().map((c, k) => ({ offset: k / (VIRIDIS.length - 1), color: c })) } } });
  [-2, 0, 2, 4].forEach(v => {
    const y = top + (s.max - v) / (s.max - s.min) * h;
    if (y < top || y > top + h) return;
    gfx.push({ type: 'line', z: 106, silent: true, shape: { x1: s.leg, y1: y, x2: s.leg + 2.5, y2: y }, style: { stroke: '#fff', lineWidth: 0.8 } });
    gfx.push({ type: 'line', z: 106, silent: true, shape: { x1: s.leg + 9.5, y1: y, x2: s.leg + 12, y2: y }, style: { stroke: '#fff', lineWidth: 0.8 } });
    txt(s.leg + 15, y, fmtInt(v), { fs: 8.5 });
  });
  txt(s.leg, 550, "Spearman's", { fs: 8.5 });
  txt(s.leg, 559.5, '\u03c1 = ' + s.rho, { fs: 8.5 });
  txt(s.leg, 569, '{i|p} = ' + s.p, { fs: 8.5, rich: { i: { fontStyle: 'italic', fontSize: 8.5, fontFamily: FONT } } });
});
txt(366, 518, 'MMEJ/(MMEJ+NHEJ)', { rot: Math.PI / 2, align: 'center' });

// ================= PANELS G & H =================
const facetLefts = [72, 179, 286, 393], FW = 102;
const gUncutAll = [lig4Uncut, mre11Uncut, polqUncut, rad51Uncut];
const gCutAll = [lig4Cut, mre11Cut, polqCut, rad51Cut];
const hAll = [lig4Corrected, mre11Corrected, polqCorrected, rad51Corrected];
function strip(x, y, w, h, label) { rect(x, y, w, h, '#D9D9D9', '#333'); txt(x + w / 2, y + h / 2 + 0.5, label, { align: 'center', fs: 8, ff: NARROW, color: '#1A1A1A' }); }
screenProteins.forEach((p, k) => {
  const L = facetLefts[k];
  const gi = panel([L, 622, FW, 86]); strip(L, 607, FW, 15, p);
  const xi = vAxis('x', gi, { min: 0.5, max: 2.5, major: [1, 2], fmt: v => gConditions[Math.round(v) - 1], fs: 8, ff: NARROW, margin: 3 });
  const yi = vAxis('y', gi, { min: -4.75, max: 2.42, major: [-4, -2, 0, 2], fmt: k === 0 ? fmtInt : undefined, ticks: k === 0, fs: 8, ff: NARROW });
  gridLines(xi, yi, { xr: 1.5, yr: 0, x: [1, 2], y: [-4, -2, 0, 2], ym: [-3, -1, 1] });
  const gd = [];
  iprClass.forEach((c, i) => {
    const j1 = (((i * 7) % 9) - 4) / 4 * 0.28, j2 = (((i * 5 + 3) % 9) - 4) / 4 * 0.28;
    gd.push({ value: [1 + j1, gUncutAll[k][i]], itemStyle: { color: CLASS_COL[c] } });
    gd.push({ value: [2 + j2, gCutAll[k][i]], itemStyle: { color: CLASS_COL[c] } });
  });
  series.push({ type: 'scatter', xAxisIndex: xi, yAxisIndex: yi, data: gd, symbolSize: 4.6, silent: true });
  const hi = panel([L, 747, FW, 87]); strip(L, 732, FW, 15, p);
  const hx = vAxis('x', hi, { min: 0.149, max: 0.525, major: [0.2, 0.3, 0.4], fmt: fmt1, fs: 8, ff: NARROW, margin: 3 });
  const hy = vAxis('y', hi, { min: -0.84, max: 0.9, major: [-0.5, 0, 0.5], fmt: k === 0 ? fmt1 : undefined, ticks: k === 0, fs: 8, ff: NARROW });
  gridLines(hx, hy, { xr: 0.3, yr: 0, x: [0.2, 0.3, 0.4], xm: [0.25, 0.35, 0.45], y: [-0.5, 0, 0.5], ym: [-0.75, -0.25, 0.25, 0.75] });
  fitSeries(hx, hy, lmFit(iprMmejRatio, hAll[k], 2.12));
  series.push({ type: 'scatter', xAxisIndex: hx, yAxisIndex: hy, symbolSize: 5, silent: true, z: 5,
    data: iprClass.map((c, i) => ({ value: [iprMmejRatio[i], hAll[k][i]], itemStyle: { color: CLASS_COL[c] } })) });
});
rect(502, 607, 101, 45, '#fff', '#333');
[['triple heterochromatin', 'tri'], ['H3K27me3', 'k27'], ['euchromatin', 'eu'], ['others', 'oth']].forEach(([t, c], i) => {
  gfx.push({ type: 'circle', z: 106, silent: true, shape: { cx: 509, cy: 614 + i * 10.7, r: 2.7 }, style: { fill: CLASS_COL[c] } });
  txt(515, 614 + i * 10.7, t, { fs: 8, ff: NARROW });
});
const richH = { o: { color: CLASS_COL.eu, fontSize: 9 }, q: { color: CLASS_COL.tri, fontSize: 9 }, i: { fontStyle: 'italic', fontSize: 8, fontFamily: NARROW } };
const boxPos = [[74, 756.5, 'left'], [276, 756.5, 'right'], [289, 756.5, 'left'], [493, 765.5, 'right']];
boxPos.forEach(([x, y, al], k) => txt(x, y, '{o|\u25cf} vs {q|\u25cf} {i|p} = ' + hTestP[k], { fs: 8, ff: NARROW, align: al, rich: richH, bg: '#fff', border: '#111', pad: [1, 3, 0, 3] }));
const rhoPos = [[75, 'left'], [183, 'left'], [386, 'right'], [397, 'left']];
rhoPos.forEach(([x, al], k) => {
  txt(x, 818, '\u03c1 = ' + hRho[k], { fs: 8, ff: NARROW, align: al });
  txt(x, 827.5, '{i|p} = ' + hRhoP[k], { fs: 8, ff: NARROW, align: al, rich: { i: { fontStyle: 'italic', fontSize: 8, fontFamily: NARROW } } });
});
txt(38, 665, 'log\u2082(normalized\nbarcode counts)', { rot: Math.PI / 2, align: 'center', fs: 9, lh: 10.5 });
txt(30, 790, 'log\u2082 (normalized\nbarcode counts)\ncutting efficiency corrected', { rot: Math.PI / 2, align: 'center', fs: 9, lh: 10.5 });
txt(284, 857, 'MMEJ/(MMEJ+NHEJ)', { align: 'center', fs: 9.5 });

[['A', 1, 1], ['B', 358, 56], ['C', 2, 203], ['D', 357, 203], ['E', 356, 444], ['F', 517, 1], ['G', 6, 594], ['H', 8, 715]].forEach(([t, x, y]) =>
  txt(x, y, t, { bold: true, fs: 14, va: 'top' }));

const chart = echarts.init(document.getElementById('c'), null, { renderer: 'canvas' });
chart.setOption({ animation: false, backgroundColor: '#fff', textStyle: { fontFamily: FONT },
  grid: grids, xAxis: xAxes, yAxis: yAxes, series: series, graphic: { elements: gfx } });
</script></body></html>
